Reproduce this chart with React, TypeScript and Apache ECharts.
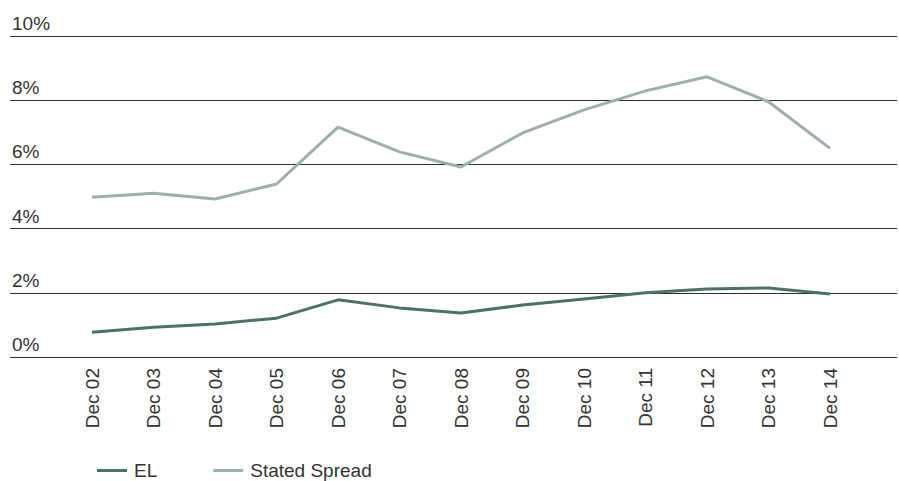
import React, { useEffect, useRef } from "react";
import * as echarts from "echarts";

const categories = ["Dec 02", "Dec 03", "Dec 04", "Dec 05", "Dec 06", "Dec 07", "Dec 08", "Dec 09", "Dec 10", "Dec 11", "Dec 12", "Dec 13", "Dec 14"];
const elValues = [0.77, 0.93, 1.03, 1.21, 1.78, 1.53, 1.37, 1.62, 1.81, 2.0, 2.12, 2.15, 1.96];
const statedSpreadValues = [4.98, 5.1, 4.92, 5.39, 7.16, 6.39, 5.92, 6.98, 7.7, 8.29, 8.73, 7.95, 6.5];
const yMin = 0;
const yMax = 10;
const yInterval = 2;

const FONT = "'Liberation Sans', Arial, sans-serif";
const EL_COLOR = "#4b7266";
const SS_COLOR = "#9cb0a9";

export default function App() {
  const ref = useRef<HTMLDivElement>(null);
  useEffect(() => {
    document.body.style.margin = "0";
    if (!ref.current) return;
    const chart = echarts.init(ref.current, undefined, { renderer: "svg" });
    chart.setOption({
      animation: false,
      backgroundColor: "#ffffff",
      textStyle: { fontFamily: FONT },
      grid: [
        { left: 10, right: 2, top: 36, height: 321 },
        { left: 61.25, right: 38.25, top: 36, height: 321 },
      ],
      xAxis: [
        { type: "value", gridIndex: 0, show: false, min: 0, max: 1 },
        {
          type: "category",
          gridIndex: 1,
          data: categories,
          boundaryGap: true,
          axisLine: { show: false },
          axisTick: { show: false },
          axisLabel: {
            rotate: 90,
            margin: 11,
            fontSize: 19,
            color: "#333",
            fontFamily: FONT,
          },
        },
      ],
      yAxis: [
        {
          type: "value",
          gridIndex: 0,
          min: yMin,
          max: yMax,
          interval: yInterval,
          axisLine: { show: false },
          axisTick: { show: false },
          splitLine: { show: true, lineStyle: { color: "#2e2e2e", width: 1.2 } },
          axisLabel: {
            inside: true,
            margin: 2,
            fontSize: 19,
            color: "#333",
            fontFamily: FONT,
            verticalAlign: "bottom",
            padding: [0, 0, 3, 0],
            formatter: (v: number) => v + "%",
          },
        },
        {
          type: "value",
          gridIndex: 1,
          min: yMin,
          max: yMax,
          interval: yInterval,
          show: false,
          splitLine: { show: false },
        },
      ],
      legend: {
        left: 92,
        top: 456,
        icon: "rect",
        itemWidth: 30,
        itemHeight: 3,
        itemGap: 56,
        textStyle: { fontSize: 19, color: "#333", fontFamily: FONT, padding: [0, 0, 0, 2] },
        data: ["EL", "Stated Spread"],
      },
      series: [
        {
          name: "EL",
          type: "line",
          xAxisIndex: 1,
          yAxisIndex: 1,
          data: elValues,
          symbol: "none",
          lineStyle: { color: EL_COLOR, width: 3 },
          itemStyle: { color: EL_COLOR },
        },
        {
          name: "Stated Spread",
          type: "line",
          xAxisIndex: 1,
          yAxisIndex: 1,
          data: statedSpreadValues,
          symbol: "none",
          lineStyle: { color: SS_COLOR, width: 3 },
          itemStyle: { color: SS_COLOR },
        },
      ],
    });
    return () => chart.dispose();
  }, []);
  return <div ref={ref} style={{ width: 899, height: 481 }} />;
}
